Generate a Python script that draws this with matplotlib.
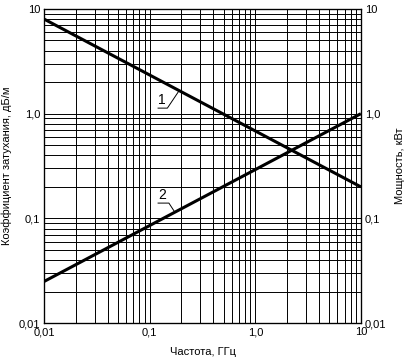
import numpy as np
import matplotlib.pyplot as plt
from matplotlib.ticker import NullLocator

plt.rcParams['font.family'] = ['Liberation Sans', 'DejaVu Sans']

freq = [0.01, 10]
atten = [8.0, 0.2]        # кривая 1
power = [0.025, 1.0]      # кривая 2
ticks = [0.01, 0.1, 1.0, 10]
tick_labels = ['0,01', '0,1', '1,0', '10']

fig = plt.figure(figsize=(4.05, 3.59), dpi=100)
ax = fig.add_axes([0.109, 0.100, 0.782, 0.875])
ax.set_xscale('log')
ax.set_yscale('log')
ax.set_xlim(0.01, 10)
ax.set_ylim(0.01, 10)

ax.grid(True, which='both', color='black', lw=0.7)
ax.plot(freq, atten, color='black', lw=2.2, solid_capstyle='butt')
ax.plot(freq, power, color='black', lw=2.2, solid_capstyle='butt')

ax.set_xticks(ticks)
ax.set_xticklabels(tick_labels)
ax.set_yticks(ticks)
ax.set_yticklabels(tick_labels)
ax.tick_params(which='both', length=0, labelsize=8, pad=3)
for s in ax.spines.values():
    s.set_linewidth(0.9)

ax2 = ax.twinx()
ax2.set_yscale('log')
ax2.set_ylim(0.01, 10)
ax2.set_yticks(ticks)
ax2.set_yticklabels(tick_labels)
ax2.yaxis.set_minor_locator(NullLocator())
ax2.tick_params(which='both', length=0, labelsize=8, pad=3)

ax.set_xlabel('Частота, ГГц', fontsize=8, labelpad=7)
ax.set_ylabel('Коэффициент затухания, дБ/м', fontsize=8, labelpad=5)
ax2.set_ylabel('Мощность, кВт', fontsize=8, labelpad=6)

# выноски
def on_line(xv, xs, ys):
    lx = np.log10(xs); ly = np.log10(ys)
    return 10 ** np.interp(np.log10(xv), lx, ly)

x_end = 0.19
ax.plot([0.12, 0.147, x_end], [1.13, 1.13, on_line(x_end, freq, atten)], color='black', lw=0.7)
ax.text(0.13, 1.16, '1', fontsize=10, ha='center', va='bottom')

x_end2 = 0.173
ax.plot([0.12, 0.152, x_end2], [0.14, 0.14, on_line(x_end2, freq, power)], color='black', lw=0.7)
ax.text(0.132, 0.143, '2', fontsize=10, ha='center', va='bottom')

fig.savefig('out.png', dpi=100)
